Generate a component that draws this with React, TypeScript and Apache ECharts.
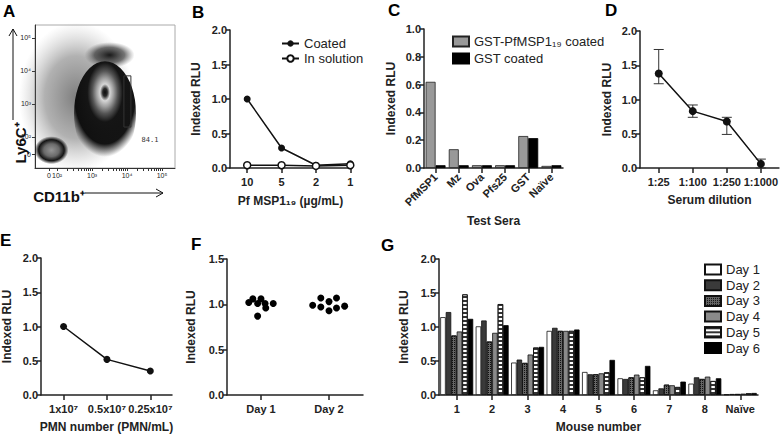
import React, { useEffect, useRef } from "react";
import * as echarts from "echarts";

const FONT = "'Liberation Sans', Arial, Helvetica, sans-serif";

// ---------- Panel A (flow cytometry) ----------
const flowXTicks = [1.77, 2, 3, 4, 5];
const flowXTickLabels = ["0", "10²", "10³", "10⁴", "10⁵"];
const flowYTicks = [1.48, 2, 3, 4, 5];
const flowYTickLabels = ["0", "10²", "10³", "10⁴", "10⁵"];
const flowPopX = [2.55, 3.5, 3.37, 1.84];
const flowPopY = [3.2, 4.48, 2.72, 1.6];
const gateX = [3.91, 4.11, 4.11, 3.91, 3.91];
const gateY = [3.85, 3.85, 2.3, 2.3, 3.85];
const gatePercent = "84.1";

// ---------- Panel B ----------
const mspDoses = ["10", "5", "2", "1"];
const coatedRlu = [1.0, 0.29, 0.04, 0.06];
const solutionRlu = [0.04, 0.04, 0.03, 0.04];

// ---------- Panel C ----------
const testSera = ["PfMSP1", "Mz", "Ova", "Pfs25", "GST", "Naïve"];
const gstMspCoated = [0.62, 0.135, 0.02, 0.02, 0.23, 0.015];
const gstCoated = [0.02, 0.02, 0.02, 0.02, 0.215, 0.02];

// ---------- Panel D ----------
const dilutions = ["1:25", "1:100", "1:250", "1:1000"];
const dilutionMean = [1.38, 0.83, 0.68, 0.06];
const dilutionHigh = [1.73, 0.92, 0.74, 0.13];
const dilutionLow = [1.23, 0.74, 0.49, 0.0];

// ---------- Panel E ----------
const pmnNumbers = ["1x10⁷", "0.5x10⁷", "0.25x10⁷"];
const pmnRlu = [1.0, 0.52, 0.35];

// ---------- Panel F ----------
const days = ["Day 1", "Day 2"];
const day1Rlu = [1.02, 1.06, 1.01, 1.06, 1.01, 0.96, 1.01, 0.87];
const day1Jitter = [-0.18, -0.12, -0.05, 0, 0.06, 0.07, 0.18, -0.05];
const day2Rlu = [0.99, 1.07, 0.97, 1.03, 0.93, 1.07, 0.96, 0.98];
const day2Jitter = [-0.24, -0.12, -0.12, 0, 0, 0.11, 0.11, 0.23];

// ---------- Panel G ----------
const mice = ["1", "2", "3", "4", "5", "6", "7", "8", "Naïve"];
const dayNames = ["Day 1", "Day 2", "Day 3", "Day 4", "Day 5", "Day 6"];
const gDay1 = [1.145, 1.01, 0.477, 0.943, 0.339, 0.246, 0.069, 0.167, 0.01];
const gDay2 = [1.22, 1.096, 0.521, 0.988, 0.305, 0.236, 0.098, 0.26, 0.015];
const gDay3 = [0.875, 0.786, 0.472, 0.943, 0.305, 0.26, 0.152, 0.236, 0.015];
const gDay4 = [0.934, 0.914, 0.595, 0.943, 0.319, 0.3, 0.143, 0.27, 0.02];
const gDay5 = [1.48, 1.337, 0.698, 0.943, 0.334, 0.26, 0.118, 0.206, 0.025];
const gDay6 = [1.12, 1.027, 0.708, 0.963, 0.516, 0.428, 0.197, 0.246, 0.03];

const INK = "#222";
const lineStyle = { color: INK, width: 1.5 };
const tickFont = { fontFamily: FONT, fontWeight: "bold" as const, fontSize: 11, color: INK };
const titleFont = { fontFamily: FONT, fontWeight: "bold" as const, fontSize: 12, color: INK };

const makeYAxis = (gridIndex: number, max: number, interval: number, nameGap: number) => ({
  type: "value",
  gridIndex,
  min: 0,
  max,
  interval,
  name: "Indexed RLU",
  nameLocation: "middle",
  nameGap,
  nameTextStyle: titleFont,
  axisLine: { show: true, onZero: false, lineStyle },
  axisTick: { show: true, length: 4, lineStyle },
  axisLabel: { ...tickFont, margin: 3, formatter: (v: number) => v.toFixed(1) },
  splitLine: { show: false },
});

const makeXValueAxis = (
  gridIndex: number,
  min: number,
  max: number,
  labels: string[],
  name: string,
  nameGap: number
) => {
  const pos = labels.map((_, i) => i);
  return {
    type: "value",
    gridIndex,
    min,
    max,
    name,
    nameLocation: "middle",
    nameGap,
    nameTextStyle: titleFont,
    axisLine: { show: true, onZero: false, lineStyle },
    axisTick: { show: true, length: 5, customValues: pos, lineStyle },
    axisLabel: {
      ...tickFont,
      margin: 8,
      customValues: pos,
      formatter: (v: number) => labels[Math.round(v)] ?? "",
    },
    splitLine: { show: false },
  };
};

const makeCatAxis = (gridIndex: number, data: string[], name: string, nameGap: number, rotate = 0) => ({
  type: "category",
  gridIndex,
  data,
  name,
  nameLocation: "middle",
  nameGap,
  nameTextStyle: titleFont,
  axisLine: { show: true, onZero: false, lineStyle },
  axisTick: { show: true, length: 5, alignWithLabel: true, lineStyle },
  axisLabel: { ...tickFont, interval: 0, rotate, margin: rotate ? 7 : 8 },
  splitLine: { show: false },
});

const radial = (x: number, y: number, r: number, stops: [number, string][]) => ({
  type: "radial",
  x,
  y,
  r,
  colorStops: stops.map(([offset, color]) => ({ offset, color })),
});

export default function App() {
  const ref = useRef<HTMLDivElement>(null);

  useEffect(() => {
    if (!ref.current) return;
    const chart = echarts.init(ref.current, null, { renderer: "svg" });

    const minorTicks: number[] = [];
    for (let d = 2; d <= 4; d++) {
      for (let k = 1; k <= 9; k++) minorTicks.push(d + Math.log10(k));
    }
    minorTicks.push(5);

    const popSizes: [number, number][] = [
      [115, 150],
      [50, 26],
      [62, 104],
      [34, 28],
    ];
    const popColors = [
      radial(0.5, 0.5, 0.5, [
        [0, "rgba(40,40,40,0.6)"],
        [0.55, "rgba(70,70,70,0.42)"],
        [1, "rgba(140,140,140,0)"],
      ]),
      radial(0.5, 0.5, 0.5, [
        [0, "rgba(15,15,15,0.95)"],
        [0.6, "rgba(40,40,40,0.65)"],
        [1, "rgba(90,90,90,0)"],
      ]),
      radial(0.5, 0.3, 0.62, [
        [0, "#0d0d0d"],
        [0.06, "#2a2a2a"],
        [0.13, "#d6d6d6"],
        [0.22, "#a0a0a0"],
        [0.33, "#555"],
        [0.46, "#151515"],
        [0.8, "rgba(8,8,8,0.95)"],
        [1, "rgba(30,30,30,0)"],
      ]),
      radial(0.5, 0.5, 0.5, [
        [0, "#959595"],
        [0.45, "#6a6a6a"],
        [0.75, "#141414"],
        [1, "rgba(0,0,0,0)"],
      ]),
    ];

    const gBarStyles: any[] = [
      { color: "#ffffff", borderColor: "#111", borderWidth: 0.8 },
      { color: "#3a3a3a", borderColor: "#111", borderWidth: 0.8 },
      {
        color: "#666",
        borderColor: "#111",
        borderWidth: 0.8,
        decal: {
          symbol: "rect",
          symbolSize: 1,
          color: "#111",
          backgroundColor: "#777",
          dashArrayX: [1, 1],
          dashArrayY: [1, 1],
        },
      },
      { color: "#8a8a8a", borderColor: "#111", borderWidth: 0.8 },
      {
        color: "#fff",
        borderColor: "#111",
        borderWidth: 0.8,
        decal: {
          symbol: "rect",
          symbolSize: 1,
          color: "#333",
          backgroundColor: "#fff",
          dashArrayX: [1, 0],
          dashArrayY: [1.5, 1.5],
        },
      },
      { color: "#000", borderColor: "#000", borderWidth: 0.8 },
    ];
    const gData = [gDay1, gDay2, gDay3, gDay4, gDay5, gDay6];

    const letter = (t: string, x: number, y: number) => ({
      type: "text",
      x,
      y,
      style: { text: t, fontFamily: FONT, fontWeight: "bold", fontSize: 17, fill: "#000" },
    });

    const option: any = {
      animation: false,
      backgroundColor: "#fff",
      grid: [
        { left: 35, top: 25, width: 140, height: 143, show: true, borderColor: "#aaa", borderWidth: 1 },
        { left: 230, top: 30, width: 121, height: 138 },
        { left: 424, top: 29, width: 139, height: 139 },
        { left: 640, top: 31, width: 140, height: 137 },
        { left: 33, top: 258, width: 139, height: 137 },
        { left: 227, top: 259, width: 136, height: 136 },
        { left: 439, top: 259, width: 319, height: 136 },
      ],
      xAxis: [
        {
          type: "value",
          gridIndex: 0,
          min: 1.37,
          max: 5.37,
          axisLine: { show: true, onZero: false, lineStyle: { color: "#333", width: 1 } },
          axisTick: { show: true, length: 3, customValues: [1.77, ...minorTicks], lineStyle: { color: "#333", width: 1 } },
          axisLabel: {
            customValues: flowXTicks,
            formatter: (v: number) => flowXTickLabels[flowXTicks.indexOf(v)] ?? "",
            fontFamily: FONT,
            fontSize: 7,
            color: "#222",
            margin: 4,
          },
          splitLine: { show: false },
        },
        makeXValueAxis(1, -0.5, 3.02, mspDoses, "Pf MSP1₁₉ (µg/mL)", 27),
        makeCatAxis(2, testSera, "Test Sera", 47, 45),
        makeXValueAxis(3, -0.55, 3.53, dilutions, "Serum dilution", 26),
        makeXValueAxis(4, -0.52, 2.5, pmnNumbers, "PMN number (PMN/mL)", 26),
        makeXValueAxis(5, -0.5, 1.5, days, "", 26),
        makeCatAxis(6, mice, "Mouse number", 26),
      ],
      yAxis: [
        {
          type: "value",
          gridIndex: 0,
          min: 1.06,
          max: 5.39,
          axisLine: { show: true, onZero: false, lineStyle: { color: "#333", width: 1 } },
          axisTick: { show: true, length: 3, customValues: flowYTicks, lineStyle: { color: "#333", width: 1 } },
          axisLabel: {
            customValues: flowYTicks,
            formatter: (v: number) => flowYTickLabels[flowYTicks.indexOf(v)] ?? "",
            fontFamily: FONT,
            fontSize: 7,
            color: "#222",
            margin: 4,
          },
          splitLine: { show: false },
        },
        makeYAxis(1, 2, 0.5, 28),
        makeYAxis(2, 1, 0.2, 27),
        makeYAxis(3, 2, 0.5, 27),
        makeYAxis(4, 2, 0.5, 28),
        makeYAxis(5, 1.5, 0.5, 30),
        makeYAxis(6, 2, 0.5, 29),
      ],
      legend: [
        {
          left: 276,
          top: 32,
          orient: "vertical",
          itemWidth: 17,
          itemHeight: 8,
          itemGap: 2,
          data: ["Coated", "In solution"],
          textStyle: { fontFamily: FONT, fontSize: 13, color: INK },
        },
        {
          left: 447,
          top: 30,
          orient: "vertical",
          icon: "rect",
          itemWidth: 16,
          itemHeight: 10,
          itemGap: 4,
          data: ["GST-PfMSP1₁₉ coated", "GST coated"],
          textStyle: { fontFamily: FONT, fontSize: 13, color: INK },
        },
        {
          left: 699,
          top: 258,
          orient: "vertical",
          icon: "rect",
          itemWidth: 16,
          itemHeight: 10,
          itemGap: 2.7,
          data: dayNames,
          textStyle: { fontFamily: FONT, fontSize: 13, color: INK },
        },
      ],
      series: [
        // Panel A
        {
          type: "scatter",
          xAxisIndex: 0,
          yAxisIndex: 0,
          silent: true,
          itemStyle: { opacity: 1 },
          data: flowPopX.map((x, i) => ({
            value: [x, flowPopY[i]],
            symbolSize: popSizes[i],
            itemStyle: { color: popColors[i], opacity: 1 },
          })),
        },
        {
          type: "line",
          xAxisIndex: 0,
          yAxisIndex: 0,
          symbol: "none",
          silent: true,
          lineStyle: { color: "#333", width: 1 },
          data: gateX.map((x, i) => [x, gateY[i]]),
        },
        // Panel B
        {
          name: "Coated",
          type: "line",
          xAxisIndex: 1,
          yAxisIndex: 1,
          symbol: "circle",
          symbolSize: 7,
          itemStyle: { color: "#111" },
          lineStyle: { color: "#111", width: 1.5 },
          data: coatedRlu.map((v, i) => [i, v]),
          z: 3,
        },
        {
          name: "In solution",
          type: "line",
          xAxisIndex: 1,
          yAxisIndex: 1,
          symbol: "circle",
          symbolSize: 7,
          itemStyle: { color: "#fff", borderColor: "#111", borderWidth: 1.5 },
          lineStyle: { color: "#111", width: 1.5 },
          data: solutionRlu.map((v, i) => [i, v]),
          z: 4,
        },
        // Panel C
        {
          name: "GST-PfMSP1₁₉ coated",
          type: "bar",
          xAxisIndex: 2,
          yAxisIndex: 2,
          barGap: "0%",
          barCategoryGap: "14%",
          itemStyle: { color: "#999", borderColor: "#222", borderWidth: 0.8 },
          data: gstMspCoated,
        },
        {
          name: "GST coated",
          type: "bar",
          xAxisIndex: 2,
          yAxisIndex: 2,
          barGap: "0%",
          barCategoryGap: "14%",
          itemStyle: { color: "#000", borderColor: "#000", borderWidth: 0.8 },
          data: gstCoated,
        },
        // Panel D
        {
          type: "custom",
          xAxisIndex: 3,
          yAxisIndex: 3,
          silent: true,
          data: dilutionMean.map((_, i) => [i, dilutionHigh[i], dilutionLow[i]]),
          renderItem: (_params: any, api: any) => {
            const x = api.value(0);
            const hi = api.coord([x, api.value(1)]);
            const lo = api.coord([x, api.value(2)]);
            const cw = 5;
            const style = { stroke: "#333", lineWidth: 1 };
            return {
              type: "group",
              children: [
                { type: "line", shape: { x1: hi[0], y1: hi[1], x2: lo[0], y2: lo[1] }, style },
                { type: "line", shape: { x1: hi[0] - cw, y1: hi[1], x2: hi[0] + cw, y2: hi[1] }, style },
                { type: "line", shape: { x1: lo[0] - cw, y1: lo[1], x2: lo[0] + cw, y2: lo[1] }, style },
              ],
            };
          },
          z: 1,
        },
        {
          type: "line",
          xAxisIndex: 3,
          yAxisIndex: 3,
          symbol: "circle",
          symbolSize: 8,
          itemStyle: { color: "#111" },
          lineStyle: { color: "#111", width: 1.5 },
          data: dilutionMean.map((v, i) => [i, v]),
          z: 3,
        },
        // Panel E
        {
          type: "line",
          xAxisIndex: 4,
          yAxisIndex: 4,
          symbol: "circle",
          symbolSize: 7,
          itemStyle: { color: "#111" },
          lineStyle: { color: "#111", width: 1.5 },
          data: pmnRlu.map((v, i) => [i, v]),
        },
        // Panel F
        {
          type: "scatter",
          xAxisIndex: 5,
          yAxisIndex: 5,
          symbolSize: 7,
          itemStyle: { color: "#000", opacity: 1 },
          data: [
            ...day1Rlu.map((v, i) => [0 + day1Jitter[i], v]),
            ...day2Rlu.map((v, i) => [1 + day2Jitter[i], v]),
          ],
        },
        // Panel G
        ...gData.map((d, k) => ({
          name: dayNames[k],
          type: "bar",
          xAxisIndex: 6,
          yAxisIndex: 6,
          barGap: "0%",
          barCategoryGap: "7%",
          itemStyle: gBarStyles[k],
          data: d,
        })),
      ],
      graphic: [
        letter("A", 3, 3),
        letter("B", 192, 4),
        letter("C", 388, 2),
        letter("D", 605, 2),
        letter("E", 0, 232),
        letter("F", 191, 236),
        letter("G", 381, 237),
        // Panel A annotations
        {
          type: "text",
          x: 150,
          y: 140,
          style: { text: gatePercent, fontFamily: "'DejaVu Sans Mono', monospace", fontSize: 7, fill: "#333", align: "center", verticalAlign: "middle" },
        },
        { type: "line", shape: { x1: 13, y1: 120, x2: 13, y2: 29 }, style: { stroke: "#111", lineWidth: 1 } },
        { type: "polyline", shape: { points: [[9, 36], [13, 29], [17, 36]] }, style: { stroke: "#111", lineWidth: 1, fill: "none" } },
        {
          type: "text",
          x: 20,
          y: 143,
          rotation: Math.PI / 2,
          style: { text: "Ly6C⁺", fontFamily: FONT, fontWeight: "bold", fontSize: 15, fill: "#111", align: "center", verticalAlign: "middle" },
        },
        {
          type: "text",
          x: 59,
          y: 196,
          style: { text: "CD11b⁺", fontFamily: FONT, fontWeight: "bold", fontSize: 15, fill: "#111", align: "center", verticalAlign: "middle" },
        },
        { type: "line", shape: { x1: 85, y1: 193, x2: 163, y2: 193 }, style: { stroke: "#111", lineWidth: 1 } },
        { type: "polyline", shape: { points: [[156, 189], [163, 193], [156, 197]] }, style: { stroke: "#111", lineWidth: 1, fill: "none" } },
      ],
    };

    chart.setOption(option);
    return () => chart.dispose();
  }, []);

  return (
    <div
      ref={ref}
      style={{ position: "fixed", left: 0, top: 0, width: 781, height: 434, background: "#fff" }}
    />
  );
}
